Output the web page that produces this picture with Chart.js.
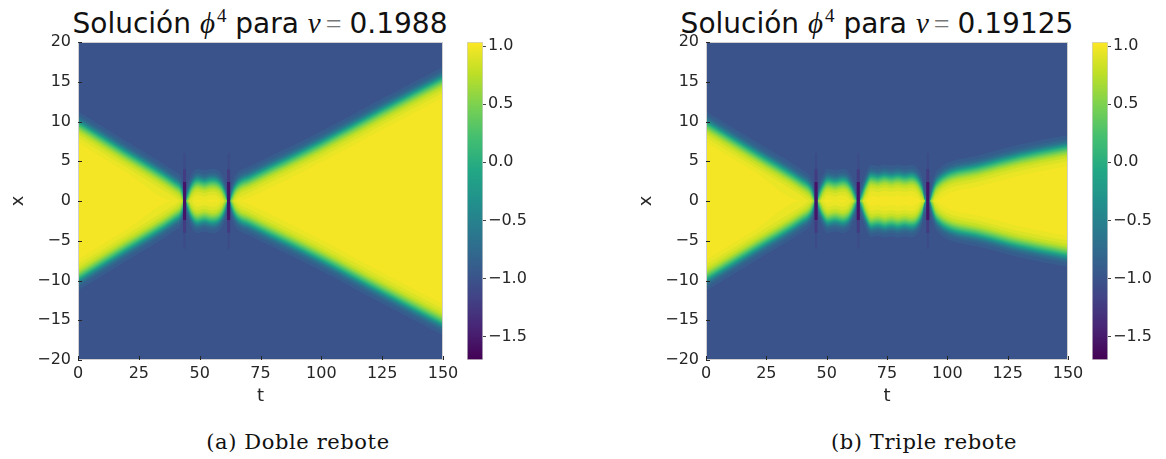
<!DOCTYPE html>
<html>
<head>
<meta charset="utf-8">
<script src="https://cdn.jsdelivr.net/npm/chart.js@4.4.1/dist/chart.umd.min.js"></script>
<style>
  body { margin: 0; background: #fff; }
  #page { position: relative; width: 1166px; height: 459px; overflow: hidden; }
  canvas { position: absolute; top: 0; }
  .ttl { position: absolute; top: 9px; width: 440px; text-align: center; white-space: nowrap;
         font: 28px 'DejaVu Sans'; line-height: 28px; color: #111; }
  .m { font-family: 'Liberation Serif'; font-style: italic; font-size: 29px; }
  .ttl sup { font-family: 'Liberation Serif'; font-size: 19px; vertical-align: 11px; line-height: 0; margin-left: 2px; }
  .eq { font-family: 'Liberation Serif'; margin: 0 8px 0 5px; color: #777; }
  .cap { position: absolute; top: 432px; width: 300px; text-align: center; white-space: nowrap;
         font: 21px 'DejaVu Serif'; line-height: 21px; letter-spacing: 0.6px; color: #111; }
</style>
</head>
<body>
<div id="page">
  <div class="ttl" style="left:40px">Solución <span class="m">ϕ</span><sup>4</sup> para <span class="m">v</span><span class="eq">=</span>0.1988</div>
  <div class="ttl" style="left:657px">Solución <span class="m">ϕ</span><sup>4</sup> para <span class="m">v</span><span class="eq">=</span>0.19125</div>
  <canvas id="heatA" width="470" height="412" style="left:0px"></canvas>
  <canvas id="barA" width="86" height="372" style="left:466px"></canvas>
  <canvas id="heatB" width="467" height="412" style="left:628px"></canvas>
  <canvas id="barB" width="75" height="372" style="left:1091px"></canvas>
  <div class="cap" style="left:148px">(a) Doble rebote</div>
  <div class="cap" style="left:774px">(b) Triple rebote</div>
</div>
<script>
// colour limits and ticks
const cbMin = -1.70, cbMax = 1.035;
const tTicks = [0, 25, 50, 75, 100, 125, 150];
const xTicks = [-20, -15, -10, -5, 0, 5, 10, 15, 20];
const cbTicks = [-1.5, -1.0, -0.5, 0.0, 0.5, 1.0];

// phi contour levels and how far inside the kink centre each one sits (x units)
const phiLevels = [-0.95, -0.85, -0.75, -0.65, -0.55, -0.45, -0.35, -0.25, -0.15, -0.05,
                   0.05, 0.15, 0.25, 0.35, 0.45, 0.55, 0.65, 0.75, 0.85, 0.93, 0.98];
const levelOffsets = [-1.5, -1.05, -0.8, -0.63, -0.5, -0.4, -0.3, -0.21, -0.12, -0.04,
                      0.05, 0.16, 0.28, 0.4, 0.53, 0.67, 0.85, 1.05, 1.37, 1.8, 2.4];

// (a) v = 0.1988 : kink centre |x| against t
const tA = [0, 20, 40, 42, 43, 43.6, 44.2, 45.2, 46.5, 48, 49.2, 52, 54.7, 57, 59, 60.4, 61.3, 62.5, 63.3, 64.4, 66, 70.7, 100, 125, 150];
const kinkA = [9.8, 6.0, 2.2, 1.7, 0.9, 0, 0, 0.8, 1.8, 2.4, 2.55, 2.35, 2.55, 2.45, 1.9, 1.0, 0, 0, 0.8, 1.6, 2.2, 2.9, 7.3, 11.4, 15.4];
const bouncesA = [43.8, 61.9];

// (b) v = 0.19125
const tB = [0, 20, 40, 43, 44.3, 45.1, 46.1, 47, 48.5, 50.5, 53.5, 56.5, 58.5, 60.3, 61.6, 62.5, 63.7, 64.7, 66, 68.5, 71.2, 74, 76.8, 79.5, 82.2, 85, 87.5, 89.5, 90.8, 92.9, 93.8, 95, 97, 100, 113.5, 130, 150];
const kinkB = [9.8, 6.1, 2.4, 1.7, 0.9, 0, 0, 0.9, 1.9, 2.55, 2.35, 2.55, 2.35, 1.6, 0.7, 0, 0, 0.8, 1.9, 3.05, 2.9, 3.1, 2.95, 3.1, 2.95, 3.05, 2.7, 1.6, 0, 0, 1.0, 2.0, 2.7, 3.3, 4.3, 5.6, 6.8];
const bouncesB = [45.6, 63.1, 91.9];

// dark dips at each bounce: reach in x and value of phi
const stripeReach = [6, 4, 2.4];
const stripePhi = [-1.08, -1.22, -1.55];

const viridis = ['#440154', '#482475', '#414487', '#355f8d', '#2a788e', '#21918c',
                 '#22a884', '#44bf70', '#7ad151', '#bddf26', '#fde725'];

function hexRgb(h) { return [1, 3, 5].map(i => parseInt(h.substr(i, 2), 16)); }
function cmap(v) {
  let f = (v - cbMin) / (cbMax - cbMin);
  f = Math.max(0, Math.min(1, f)) * (viridis.length - 1);
  const i = Math.min(Math.floor(f), viridis.length - 2);
  const a = hexRgb(viridis[i]), b = hexRgb(viridis[i + 1]), w = f - i;
  const c = a.map((x, k) => Math.round(x + (b[k] - x) * w));
  return 'rgb(' + c.join(',') + ')';
}

const fmt = v => String(v).replace('-', '\u2212');
const tickFont = { family: 'DejaVu Sans', size: 16 };
const ink = '#262626';

const frame = {
  id: 'frame',
  beforeDatasetsDraw(chart) {
    const { ctx, chartArea: a } = chart;
    ctx.save();
    ctx.fillStyle = cmap(-1);
    ctx.fillRect(a.left, a.top, a.right - a.left, a.bottom - a.top);
    ctx.restore();
  },
  afterDatasetsDraw(chart) {
    const { ctx, chartArea: a, scales } = chart;
    ctx.save();
    ctx.strokeStyle = '#cfcfcf';
    ctx.lineWidth = 1;
    ctx.strokeRect(a.left + 0.5, a.top + 0.5, a.right - a.left - 1, a.bottom - a.top - 1);
    ctx.strokeStyle = ink;
    ctx.beginPath();
    xTicks.forEach(v => {
      const y = Math.round(scales.y.getPixelForValue(v)) + 0.5;
      ctx.moveTo(a.left, y); ctx.lineTo(a.left + 4, y);
    });
    tTicks.forEach(v => {
      const x = Math.round(scales.x.getPixelForValue(v)) + 0.5;
      ctx.moveTo(x, a.bottom); ctx.lineTo(x, a.bottom - 4);
    });
    ctx.stroke();
    ctx.restore();
  }
};

function buildDatasets(ts, kink, bounces) {
  const sets = [];
  phiLevels.forEach((lev, i) => {
    const edge = kink.map(X => Math.max(0, X - levelOffsets[i]));
    const mid = i < phiLevels.length - 1 ? (lev + phiLevels[i + 1]) / 2 : 1.0;
    const common = { borderWidth: 0, borderColor: 'rgba(0,0,0,0)', pointRadius: 0,
                     cubicInterpolationMode: 'monotone', order: 100 - i };
    sets.push(Object.assign({ data: ts.map((t, j) => ({ x: t, y: edge[j] })),
                              fill: '+1', backgroundColor: cmap(mid) }, common));
    sets.push(Object.assign({ data: ts.map((t, j) => ({ x: t, y: -edge[j] })),
                              fill: false }, common));
  });
  stripeReach.forEach((h, k) => {
    const pts = [];
    bounces.forEach(t => { pts.push({ x: t, y: -h }, { x: t, y: h }, { x: t, y: null }); });
    sets.push({ data: pts, borderColor: cmap(stripePhi[k]), borderWidth: k === 0 ? 2 : 3,
                borderCapStyle: 'butt', pointRadius: 0, fill: false, spanGaps: false, order: -1 - k });
  });
  return sets;
}

function heatChart(id, ts, kink, bounces) {
  return new Chart(document.getElementById(id), {
    type: 'line',
    data: { datasets: buildDatasets(ts, kink, bounces) },
    options: {
      responsive: false, animation: false, devicePixelRatio: 1,
      layout: { padding: { top: 42, right: 27, bottom: 2, left: 0 } },
      plugins: { legend: { display: false }, tooltip: { enabled: false } },
      scales: {
        x: {
          type: 'linear', min: 0, max: 150,
          afterBuildTicks: s => { s.ticks = tTicks.map(v => ({ value: v })); },
          afterFit: s => { s.height = 50; },
          ticks: { font: tickFont, color: ink, padding: 4, maxRotation: 0, callback: fmt },
          grid: { drawOnChartArea: false, drawTicks: false },
          border: { display: false },
          title: { display: true, text: 't', color: ink, font: { family: 'DejaVu Sans', size: 18 },
                   padding: { top: 0, bottom: 3 } }
        },
        y: {
          type: 'linear', min: -20, max: 20,
          afterBuildTicks: s => { s.ticks = xTicks.map(v => ({ value: v })); },
          afterFit: s => { s.width = 78; },
          ticks: { font: tickFont, color: ink, padding: 7, callback: fmt },
          grid: { drawOnChartArea: false, drawTicks: false },
          border: { display: false },
          title: { display: true, text: 'x', color: ink, font: { family: 'DejaVu Sans', size: 18 },
                   padding: { top: 8, bottom: 0 } }
        }
      }
    },
    plugins: [frame]
  });
}

function barChart(id, axisWidth, padRight) {
  return new Chart(document.getElementById(id), {
    type: 'bar',
    data: {
      labels: ['phi'],
      datasets: [{
        data: [[cbMin, cbMax]],
        barPercentage: 1, categoryPercentage: 1,
        borderWidth: 1, borderColor: '#cfcfcf', borderSkipped: false,
        backgroundColor: ctx => {
          const a = ctx.chart.chartArea;
          if (!a) return viridis[5];
          const g = ctx.chart.ctx.createLinearGradient(0, a.bottom, 0, a.top);
          viridis.forEach((c, i) => g.addColorStop(i / (viridis.length - 1), c));
          return g;
        }
      }]
    },
    options: {
      responsive: false, animation: false, devicePixelRatio: 1,
      layout: { padding: { top: 42, right: padRight, bottom: 12, left: 1 } },
      plugins: { legend: { display: false }, tooltip: { enabled: false } },
      scales: {
        x: { display: false },
        y: {
          position: 'right', min: cbMin, max: cbMax,
          afterBuildTicks: s => { s.ticks = cbTicks.map(v => ({ value: v })); },
          afterFit: s => { s.width = axisWidth; },
          ticks: { font: tickFont, color: ink, padding: 2, callback: v => fmt(v.toFixed(1)) },
          grid: { drawOnChartArea: false, drawTicks: true, tickLength: 3, tickColor: '#444' },
          border: { display: false }
        }
      }
    }
  });
}

heatChart('heatA', tA, kinkA, bouncesA);
heatChart('heatB', tB, kinkB, bouncesB);
barChart('barA', 60, 9);
barChart('barB', 56, 2);
</script>
</body>
</html>
